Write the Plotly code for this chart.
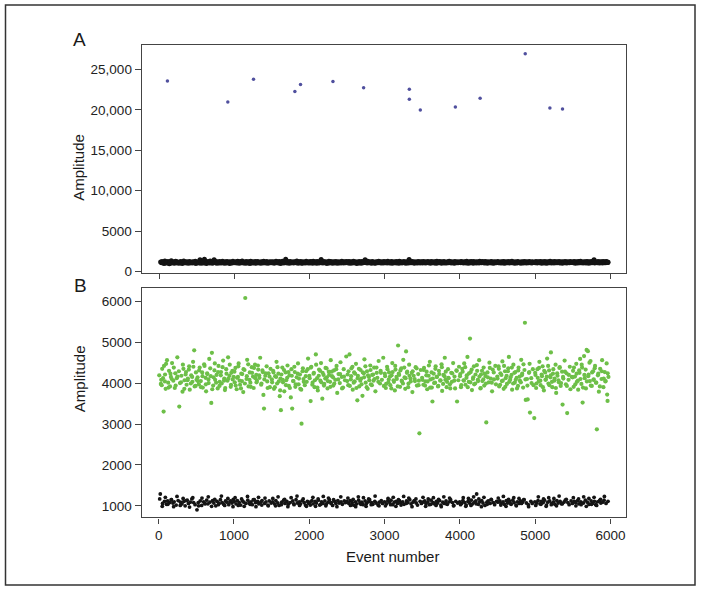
import plotly.graph_objs as go

# droplet events (event number), amplitude in channel A and in channel B
event_no = [
    22, 34, 41, 52, 66, 71, 78, 85, 93, 104, 111, 119, 127, 138, 146, 151, 163, 170, 178, 189, 195, 206, 214, 221, 233, 240, 248, 259, 274, 283, 291, 302, 310, 317, 329, 336, 344, 352, 363, 371, 379, 388, 396, 405, 413, 420, 432, 441, 448, 457, 465, 472, 484, 491, 509,
    517, 526, 533, 545, 552, 560, 571, 578, 586, 597, 604, 612, 623, 630, 638, 647, 655, 664, 672, 680, 691, 699, 707, 716, 724, 733, 741, 750, 758, 769, 776, 784, 795, 803, 811, 820, 828, 837, 845, 856, 863, 871, 880, 888, 897, 905, 914, 922, 931, 940, 948, 957, 965, 974, 983, 991,
    1002, 1010, 1019, 1027, 1036, 1045, 1053, 1062, 1070, 1081, 1089, 1097, 1106, 1114, 1123, 1131, 1140, 1150, 1158, 1167, 1175, 1184, 1193, 1201, 1210, 1218, 1227, 1236, 1244, 1253, 1261, 1270, 1279, 1287, 1296, 1305, 1313, 1322, 1330, 1339, 1348, 1356, 1365, 1373, 1382, 1391, 1399, 1408, 1416, 1425, 1434, 1442, 1451, 1459, 1468, 1477, 1485, 1494,
    1503, 1512, 1520, 1531, 1538, 1547, 1556, 1565, 1573, 1582, 1590, 1599, 1608, 1617, 1623, 1634, 1642, 1651, 1660, 1668, 1677, 1685, 1694, 1703, 1711, 1720, 1729, 1737, 1746, 1755, 1763, 1773, 1781, 1790, 1798, 1807, 1815, 1824, 1833, 1841, 1850, 1858, 1867, 1876, 1884, 1893, 1897, 1906, 1915, 1923, 1932, 1940, 1949, 1958, 1966, 1975, 1984, 1992,
    2001, 2009, 2018, 2027, 2035, 2044, 2052, 2061, 2070, 2078, 2087, 2095, 2104, 2113, 2121, 2130, 2138, 2147, 2156, 2164, 2173, 2181, 2190, 2199, 2207, 2216, 2224, 2233, 2242, 2250, 2259, 2267, 2276, 2285, 2293, 2302, 2310, 2319, 2328, 2336, 2345, 2353, 2362, 2371, 2379, 2388, 2396, 2405, 2414, 2422, 2431, 2439, 2448, 2457, 2465, 2474, 2482, 2491,
    2500, 2509, 2517, 2526, 2534, 2543, 2552, 2560, 2569, 2577, 2586, 2595, 2603, 2612, 2620, 2629, 2638, 2646, 2655, 2663, 2672, 2681, 2689, 2698, 2706, 2715, 2724, 2732, 2741, 2749, 2758, 2767, 2775, 2784, 2792, 2801, 2810, 2818, 2827, 2835, 2844, 2853, 2861, 2870, 2878, 2887, 2896, 2904, 2913, 2921, 2930, 2939, 2947, 2956, 2964, 2973, 2982, 2990,
    2999, 3007, 3016, 3025, 3033, 3042, 3050, 3059, 3068, 3076, 3085, 3093, 3102, 3111, 3119, 3128, 3136, 3145, 3154, 3162, 3171, 3179, 3188, 3197, 3205, 3214, 3222, 3231, 3240, 3248, 3257, 3265, 3274, 3285, 3291, 3300, 3308, 3317, 3326, 3334, 3343, 3351, 3360, 3369, 3377, 3386, 3394, 3403, 3412, 3420, 3429, 3437, 3446, 3455, 3462, 3472, 3480, 3489,
    3498, 3506, 3515, 3523, 3532, 3541, 3549, 3558, 3566, 3575, 3584, 3592, 3601, 3609, 3618, 3627, 3635, 3644, 3652, 3661, 3670, 3678, 3687, 3695, 3704, 3713, 3721, 3730, 3738, 3747, 3756, 3764, 3773, 3781, 3790, 3799, 3807, 3816, 3824, 3833, 3842, 3850, 3859, 3867, 3876, 3885, 3893, 3902, 3910, 3919, 3928, 3936, 3945, 3953, 3962, 3971, 3979, 3988,
    3997, 4005, 4014, 4022, 4031, 4040, 4048, 4057, 4065, 4074, 4083, 4091, 4100, 4108, 4117, 4126, 4134, 4143, 4151, 4160, 4169, 4177, 4186, 4194, 4203, 4212, 4222, 4229, 4237, 4246, 4255, 4263, 4272, 4280, 4289, 4298, 4306, 4315, 4323, 4332, 4341, 4350, 4358, 4366, 4375, 4384, 4392, 4401, 4409, 4418, 4427, 4435, 4444, 4452, 4461, 4470, 4478, 4487,
    4496, 4504, 4513, 4521, 4530, 4538, 4547, 4556, 4564, 4573, 4581, 4590, 4599, 4607, 4616, 4624, 4633, 4642, 4650, 4659, 4667, 4676, 4685, 4693, 4702, 4710, 4719, 4728, 4736, 4745, 4753, 4762, 4771, 4779, 4788, 4796, 4805, 4814, 4822, 4831, 4839, 4848, 4857, 4863, 4874, 4882, 4891, 4900, 4908, 4917, 4925, 4930, 4942, 4951, 4960, 4968, 4977, 4987,
    4995, 5003, 5012, 5020, 5029, 5037, 5046, 5055, 5063, 5072, 5080, 5089, 5098, 5106, 5115, 5123, 5132, 5141, 5149, 5158, 5166, 5175, 5184, 5192, 5201, 5208, 5218, 5227, 5235, 5244, 5252, 5261, 5270, 5278, 5287, 5295, 5304, 5313, 5321, 5330, 5338, 5347, 5356, 5363, 5373, 5381, 5390, 5399, 5407, 5416, 5424, 5433, 5442, 5450, 5459, 5467, 5476, 5485,
    5493, 5502, 5510, 5519, 5527, 5536, 5545, 5553, 5562, 5570, 5579, 5588, 5596, 5605, 5613, 5622, 5629, 5639, 5648, 5656, 5665, 5673, 5682, 5691, 5699, 5708, 5716, 5725, 5734, 5742, 5751, 5759, 5768, 5777, 5785, 5794, 5802, 5811, 5818, 5828, 5837, 5845, 5854, 5862, 5871, 5880, 5888, 5897, 5905, 5914, 5923, 5931, 5940, 5948, 5955, 5960, 5966, 5972,
]

amp_a = [
    1180, 1090, 1240, 1130, 1010, 1160, 1300, 1070, 1200, 1120, 1050, 1260, 1140, 980, 1190, 1110, 1350, 1060, 1170, 1230, 1100, 1020, 1150, 1280, 1090, 1210, 1130, 1040, 1180, 1070, 1250, 1120, 1000, 1160, 1310, 1080, 1140, 1200, 1060, 1230, 1110, 1170, 1020, 1260, 1130, 1090, 1190, 1050, 1150, 1220, 1080, 1120, 1270, 1010, 1160,
    1120, 1210, 1070, 1480, 1150, 1030, 1240, 1110, 1190, 1060, 1520, 1130, 1270, 1000, 1180, 1090, 1220, 1140, 1050, 1300, 1120, 1170, 1040, 1230, 1100, 1470, 1160, 1080, 1260, 1020, 1190, 1130, 1070, 1240, 1110, 1200, 1050, 1150, 1280, 1090, 1170, 1030, 1210, 1120, 1060, 1250, 1140, 1080, 1190, 1010, 1230, 1100, 1160, 1070, 1290, 1130,
    1150, 1080, 1220, 1130, 1050, 1270, 1110, 1190, 1040, 1240, 1160, 1090, 1310, 1120, 1060, 1200, 1140, 1030, 1250, 1100, 1180, 1070, 1230, 1130, 1010, 1280, 1150, 1090, 1210, 1060, 1170, 1120, 1260, 1040, 1190, 1100, 1240, 1080, 1160, 1130, 1020, 1220, 1110, 1180, 1050, 1270, 1140, 1090, 1200, 1070, 1250, 1120, 1030, 1170, 1150, 1230, 1080, 1190,
    1100, 1230, 1160, 1040, 1190, 1120, 1270, 1080, 1210, 1140, 1060, 1250, 1130, 1010, 1180, 1100, 1290, 1150, 1070, 1220, 1120, 1540, 1170, 1050, 1240, 1110, 1190, 1030, 1260, 1140, 1090, 1200, 1160, 1060, 1230, 1120, 1180, 1080, 1300, 1130, 1040, 1210, 1150, 1100, 1250, 1070, 1170, 1020, 1220, 1140, 1090, 1190, 1060, 1270, 1120, 1160, 1050, 1230,
    1170, 1060, 1240, 1120, 1190, 1040, 1280, 1130, 1090, 1210, 1150, 1020, 1250, 1110, 1180, 1070, 1230, 1140, 1500, 1100, 1200, 1050, 1260, 1160, 1080, 1220, 1130, 1010, 1190, 1120, 1270, 1060, 1170, 1240, 1090, 1150, 1030, 1210, 1130, 1180, 1070, 1250, 1110, 1160, 1040, 1230, 1140, 1090, 1200, 1060, 1290, 1120, 1180, 1050, 1220, 1150, 1100, 1240,
    1130, 1200, 1070, 1250, 1150, 1040, 1220, 1110, 1180, 1060, 1270, 1140, 1090, 1230, 1120, 1010, 1190, 1160, 1050, 1240, 1100, 1170, 1030, 1260, 1130, 1080, 1210, 1150, 1460, 1120, 1190, 1060, 1280, 1140, 1090, 1220, 1110, 1170, 1040, 1250, 1130, 1200, 1070, 1160, 1020, 1230, 1120, 1180, 1080, 1270, 1140, 1100, 1210, 1050, 1190, 1150, 1060, 1240,
    1160, 1090, 1230, 1120, 1050, 1270, 1140, 1200, 1070, 1180, 1110, 1250, 1030, 1190, 1130, 1080, 1220, 1150, 1060, 1240, 1120, 1170, 1040, 1280, 1100, 1210, 1140, 1070, 1190, 1130, 1250, 1090, 1160, 1020, 1230, 1120, 1180, 1060, 1510, 1150, 1100, 1210, 1080, 1260, 1130, 1170, 1040, 1220, 1140, 1090, 1190, 1060, 1240, 1120, 1180, 1050, 1230, 1150,
    1190, 1070, 1240, 1130, 1100, 1220, 1050, 1170, 1140, 1260, 1080, 1200, 1120, 1030, 1250, 1160, 1090, 1210, 1130, 1060, 1230, 1180, 1040, 1270, 1110, 1150, 1080, 1240, 1120, 1190, 1020, 1220, 1140, 1100, 1260, 1070, 1170, 1130, 1050, 1210, 1160, 1090, 1280, 1120, 1190, 1060, 1230, 1140, 1100, 1200, 1040, 1250, 1130, 1170, 1080, 1220, 1110, 1160,
    1140, 1210, 1080, 1250, 1120, 1170, 1050, 1230, 1130, 1190, 1060, 1270, 1110, 1160, 1040, 1220, 1150, 1090, 1240, 1120, 1180, 1020, 1260, 1140, 1100, 1200, 1070, 1230, 1130, 1170, 1050, 1290, 1120, 1190, 1080, 1240, 1150, 1100, 1210, 1060, 1250, 1130, 1170, 1030, 1220, 1140, 1090, 1200, 1110, 1260, 1070, 1180, 1150, 1040, 1230, 1120, 1190, 1080,
    1120, 1250, 1090, 1180, 1140, 1060, 1230, 1110, 1200, 1070, 1260, 1150, 1030, 1210, 1130, 1170, 1090, 1240, 1120, 1050, 1220, 1160, 1100, 1280, 1080, 1190, 1140, 1040, 1230, 1110, 1170, 1060, 1250, 1130, 1200, 1090, 1150, 1020, 1220, 1140, 1180, 1070, 1260, 1120, 1100, 1210, 1050, 1190, 1150, 1080, 1240, 1130, 1170, 1060, 1230, 1110, 1190, 1140,
    1170, 1100, 1240, 1130, 1060, 1220, 1150, 1190, 1080, 1260, 1120, 1040, 1210, 1140, 1180, 1070, 1250, 1110, 1160, 1030, 1230, 1130, 1200, 1090, 1270, 1150, 1060, 1220, 1120, 1180, 1050, 1240, 1140, 1100, 1210, 1080, 1190, 1130, 1260, 1070, 1160, 1120, 1230, 1040, 1200, 1150, 1090, 1250, 1110, 1180, 1060, 1220, 1140, 1170, 1080, 1240, 1120, 1190,
    1130, 1200, 1080, 1250, 1150, 1040, 1220, 1120, 1180, 1060, 1240, 1140, 1100, 1270, 1090, 1190, 1130, 1050, 1230, 1160, 1110, 1210, 1070, 1260, 1140, 1180, 1030, 1220, 1150, 1100, 1240, 1080, 1190, 1120, 1470, 1060, 1230, 1140, 1170, 1090, 1250, 1110, 1200, 1050, 1220, 1130, 1180, 1070, 1260, 1150, 1100, 1210, 1080, 1240, 1120, 1190, 1140, 1160,
]

amp_b = [
    1290, 4080, 3950, 1060, 3305, 4420, 1110, 4210, 3860, 1040, 4560, 1120, 4010, 4300, 1080, 3920, 4150, 1150, 4490, 1070, 4060, 1100, 3880, 4240, 1020, 4120, 4630, 1130, 3427, 4000, 1090, 4180, 1050, 3790, 4350, 1110, 4070, 1000, 4270, 3960, 1140, 4110, 1060, 4410, 3840, 1090, 4190, 1170, 4030, 4520, 1080, 4800, 1030, 3930, 903,
    4140, 1080, 3970, 4380, 1120, 4050, 1010, 4260, 3890, 1100, 4460, 1060, 4130, 3800, 1140, 4220, 1050, 4000, 4590, 1090, 4170, 3516, 4740, 1130, 3940, 1070, 4310, 4080, 1000, 4200, 1110, 3870, 4420, 1060, 4030, 1150, 4270, 3990, 1080, 4550, 1040, 4110, 3830, 1120, 4340, 1090, 4060, 4630, 1030, 4180, 1100, 3910, 4250, 1070, 4090, 1160,
    1110, 4020, 4370, 1050, 3850, 1130, 4150, 4480, 1080, 3960, 1020, 4230, 4050, 1120, 3780, 1090, 4320, 6080, 1060, 4100, 4570, 1140, 3920, 1070, 4260, 4010, 1100, 4390, 1030, 4160, 3880, 1150, 4450, 1080, 4200, 4060, 1110, 4330, 1050, 4130, 4620, 1090, 3990, 1130, 4270, 3710, 3378, 1060, 4180, 1100, 4410, 4040, 1020, 4240, 1120, 3900, 4350, 1070,
    4090, 1100, 4300, 3860, 1050, 4170, 1130, 4520, 3990, 1070, 4230, 1010, 3680, 4110, 3339, 1090, 4380, 4020, 1140, 3800, 1060, 4260, 4070, 1110, 4430, 1040, 3930, 4190, 1080, 3650, 4340, 3378, 1120, 4050, 1030, 4270, 3910, 1150, 4140, 1070, 4480, 3970, 1100, 4210, 1050, 3840, 3008, 1130, 4360, 4100, 1080, 3950, 1020, 4290, 4030, 1110, 4600, 1060,
    4180, 1090, 3560, 4400, 1130, 4010, 1050, 4250, 3900, 1110, 4700, 1070, 4120, 3820, 1140, 4330, 1020, 4060, 4490, 1100, 3620, 1060, 4200, 3980, 1120, 4370, 1040, 4140, 3870, 1090, 4280, 1150, 4030, 4560, 1080, 4170, 1010, 3940, 4310, 1110, 4080, 1060, 4420, 3760, 1130, 4220, 1070, 4000, 4510, 1100, 4150, 1040, 3890, 4340, 1120, 4070, 1080, 4650,
    1110, 4210, 3950, 1060, 4700, 1130, 4090, 4360, 1080, 3840, 1020, 4260, 4040, 1100, 4470, 1050, 3580, 4180, 1140, 3920, 1070, 4320, 4110, 1090, 3690, 1030, 4240, 4580, 1120, 4010, 1060, 4290, 3860, 1100, 4150, 1150, 4430, 3970, 1080, 4200, 1040, 4060, 4380, 1110, 3800, 1070, 4250, 4130, 1020, 4540, 1090, 3990, 4300, 1130, 4080, 1060, 4620, 3930,
    1100, 4170, 3880, 1050, 4400, 1120, 4020, 4260, 1080, 3950, 1140, 4190, 4490, 1030, 4070, 1090, 3820, 4330, 1110, 4100, 1060, 4919, 4230, 1130, 3910, 1070, 4360, 4040, 1100, 4570, 1040, 4140, 3860, 4774, 1120, 4280, 1080, 3990, 4450, 1150, 4110, 1050, 4250, 3780, 1090, 4180, 1130, 4050, 4390, 1070, 3940, 1020, 4220, 4060, 2773, 1110, 4320, 1060,
    4130, 1090, 3960, 4370, 1120, 4040, 1060, 4280, 3850, 1100, 4180, 1030, 4520, 4090, 1140, 3890, 3550, 1080, 4230, 1050, 4010, 4410, 1110, 4150, 1070, 3930, 4300, 1130, 4060, 1020, 4460, 3810, 1090, 4200, 1060, 4620, 4080, 1120, 3900, 1040, 4340, 4120, 1100, 3970, 1150, 4250, 4030, 1080, 4490, 1010, 4160, 3870, 1110, 4310, 3550, 1070, 4070, 4400,
    1100, 4220, 3900, 1060, 4350, 1130, 4070, 4480, 1080, 3960, 1020, 4190, 4640, 1110, 4030, 1070, 5088, 4270, 1140, 3830, 1050, 4140, 4410, 1090, 3990, 1120, 1290, 4300, 4080, 1040, 4560, 1100, 3870, 4210, 1130, 4050, 1070, 4380, 3940, 1010, 4170, 3040, 1090, 4260, 1120, 4020, 4500, 1060, 4110, 1150, 3800, 4330, 1080, 4090, 1030, 4420, 3970, 1110,
    4160, 1090, 4410, 3920, 1120, 4240, 1060, 4050, 4530, 1100, 3860, 1040, 4290, 4120, 1130, 3980, 1070, 4360, 4640, 1110, 4080, 1050, 4200, 3840, 1140, 4450, 1080, 4010, 4270, 1020, 4130, 1100, 3930, 4380, 1060, 4060, 1120, 4570, 4190, 1090, 3890, 1150, 4320, 5475, 3590, 1070, 4100, 3600, 1030, 4250, 4470, 3281, 1110, 4000, 1060, 4340, 3950, 3145,
    1100, 4200, 3880, 1070, 4340, 1130, 4040, 4520, 1050, 3950, 1110, 4170, 4410, 1080, 3820, 1140, 4260, 4090, 1020, 4600, 1090, 3990, 4310, 1120, 4140, 4750, 1060, 3900, 4230, 1100, 4060, 1040, 4450, 3760, 1130, 4180, 1070, 4020, 4370, 1110, 3930, 1050, 4280, 3475, 4110, 1090, 4550, 1140, 3970, 4240, 3267, 1080, 4080, 1030, 4400, 3850, 1120, 4150,
    1060, 4300, 3910, 1110, 4160, 1080, 4470, 4030, 1130, 3840, 1050, 4250, 4590, 1100, 3980, 4380, 3523, 1070, 4660, 4120, 1140, 3870, 4810, 1090, 4780, 4210, 1040, 4050, 4540, 1120, 3930, 1060, 4290, 4090, 1110, 4420, 1030, 4010, 2870, 1100, 4230, 3790, 1130, 4350, 1070, 4100, 4560, 1090, 3900, 1140, 4270, 4040, 1060, 4480, 3720, 3564, 1110, 4150,
]

# further droplets
pos_event_b = [
    8, 29, 47, 58, 83, 99, 131, 157, 174, 201, 226, 252, 268, 297, 322, 341, 358, 384, 401, 427, 445, 461, 478, 495, 503,
    521, 538, 563, 582, 609, 627, 644, 661, 685, 712, 729, 746, 763, 789, 808, 825, 849, 868, 884, 901, 926, 944, 961, 979, 996,
    1006, 1023, 1041, 1058, 1075, 1093, 1110, 1127, 1145, 1171, 1189, 1206, 1223, 1240, 1266, 1283, 1300, 1318, 1335, 1361, 1378, 1404, 1421, 1447, 1472,
    1507, 1525, 1543, 1560, 1578, 1595, 1613, 1630, 1647, 1664, 1690, 1707, 1724, 1742, 1768, 1785, 1802, 1820, 1846, 1863, 1880, 1910, 1927, 1953, 1979,
    2005, 2022, 2040, 2057, 2074, 2091, 2108, 2126, 2143, 2160, 2177, 2195, 2212, 2229, 2246, 2263, 2281, 2298, 2315, 2332, 2358, 2384, 2410, 2435, 2461,
    2504, 2521, 2539, 2556, 2573, 2590, 2608, 2625, 2642, 2659, 2677, 2694, 2711, 2728, 2745, 2762, 2780, 2797, 2814, 2831, 2848, 2866, 2892, 2917, 2951,
    3003, 3020, 3038, 3055, 3072, 3089, 3107, 3124, 3141, 3158, 3175, 3193, 3210, 3227, 3244, 3261, 3279, 3296, 3313, 3330, 3347, 3373, 3399, 3425, 3451,
    3502, 3519, 3537, 3554, 3571, 3588, 3605, 3623, 3640, 3657, 3674, 3691, 3709, 3726, 3743, 3760, 3777, 3795, 3812, 3829, 3846, 3872, 3898, 3924, 3958,
    4001, 4018, 4036, 4053, 4070, 4087, 4104, 4121, 4139, 4156, 4173, 4190, 4207, 4225, 4242, 4259, 4276, 4293, 4311, 4328, 4345, 4371, 4397, 4423, 4449,
    4500, 4517, 4534, 4551, 4569, 4586, 4603, 4620, 4637, 4655, 4672, 4689, 4706, 4723, 4741, 4758, 4775, 4792, 4809, 4827, 4844, 4870, 4896, 4921, 4947,
    4999, 5016, 5033, 5050, 5068, 5085, 5102, 5119, 5136, 5154, 5171, 5188, 5205, 5222, 5240, 5257, 5274, 5291, 5308, 5326, 5343, 5369, 5395, 5420, 5446,
    5497, 5514, 5532, 5549, 5566, 5583, 5600, 5617, 5634, 5652, 5669, 5686, 5703, 5720, 5738, 5755, 5772, 5789, 5806, 5832, 5858, 5884, 5910, 5935, 5962,
]
pos_amp_b = [
    4190, 3980, 4350, 4120, 4040, 4470, 3890, 4230, 4100, 4380, 3940, 4160, 4290, 4020, 4450, 3860, 4210, 4070, 4330, 3990, 4150, 4400, 3920, 4260, 4080,
    4050, 4310, 3900, 4170, 4420, 3970, 4240, 4090, 4360, 3850, 4140, 4480, 4010, 4270, 3930, 4190, 4390, 4060, 3880, 4230, 4110, 4450, 3960, 4300, 4150,
    4280, 3940, 4130, 4410, 4060, 3870, 4220, 4340, 3990, 4170, 4460, 4080, 3910, 4250, 4370, 4120, 4020, 4430, 4190, 3960, 4310, 4090, 4240, 3880, 4160,
    4020, 4260, 3900, 4150, 4390, 4040, 3820, 4210, 4080, 4320, 3950, 4130, 4270, 3880, 4180, 4050, 4400, 3970, 4230, 4110, 3860, 4290, 4030, 4170, 4340,
    4120, 4380, 3960, 4230, 4070, 4450, 3890, 4180, 4300, 4020, 4250, 3940, 4110, 4360, 4050, 4200, 3910, 4280, 4140, 3990, 4340, 4090, 4220, 3870, 4160,
    4050, 4290, 3930, 4170, 4400, 4010, 4230, 3880, 4120, 4350, 4060, 3970, 4260, 4140, 4410, 3900, 4190, 4070, 4320, 3950, 4210, 4100, 4380, 4030, 4250,
    4230, 3980, 4340, 4090, 4160, 3870, 4270, 4030, 4420, 4150, 3920, 4200, 4310, 4060, 3990, 4380, 4120, 4250, 3900, 4180, 4040, 4290, 4100, 4360, 3950,
    4080, 4320, 3940, 4190, 4040, 4430, 3890, 4260, 4110, 4000, 4350, 4150, 3920, 4220, 4070, 4390, 3980, 4170, 4280, 4030, 4130, 3870, 4240, 4060, 4300,
    4170, 3950, 4280, 4060, 4390, 4130, 3900, 4240, 4020, 4330, 4100, 3970, 4210, 4440, 4050, 4160, 3880, 4300, 4090, 4230, 3990, 4140, 4370, 4010, 4260,
    4110, 4350, 3960, 4200, 4060, 4420, 3910, 4180, 4290, 4030, 4140, 4380, 3990, 4250, 4080, 3870, 4310, 4160, 4020, 4230, 4460, 4090, 3940, 4270, 4120,
    4250, 3990, 4130, 4370, 4060, 4210, 3900, 4300, 4080, 4160, 4420, 3950, 4190, 4030, 4340, 4110, 3880, 4240, 4070, 4390, 4000, 4150, 4280, 3930, 4200,
    4140, 4380, 3970, 4230, 4060, 4310, 4100, 4450, 3890, 4200, 4330, 4040, 4170, 4500, 3940, 4260, 4080, 4360, 4010, 4190, 3920, 4290, 4110, 4050, 4240,
]
neg_event_b = [
    14, 48, 89, 122, 167, 199, 244, 287, 325, 367, 410, 453,
    530, 575, 618, 659, 703, 745, 792, 833, 877, 919, 953, 987,
    1015, 1057, 1101, 1136, 1180, 1214, 1257, 1292, 1326, 1369, 1412, 1455,
    1516, 1552, 1586, 1629, 1672, 1716, 1759, 1794, 1837, 1871, 1919, 1962,
    2014, 2048, 2083, 2117, 2152, 2186, 2220, 2255, 2289, 2323, 2367, 2418,
    2513, 2547, 2582, 2616, 2651, 2685, 2719, 2754, 2788, 2822, 2874, 2926,
    3011, 3046, 3080, 3115, 3150, 3184, 3218, 3253, 3287, 3321, 3364, 3416,
    3510, 3545, 3579, 3614, 3648, 3683, 3717, 3752, 3786, 3820, 3863, 3915,
    4009, 4044, 4078, 4113, 4147, 4182, 4216, 4251, 4285, 4319, 4362, 4414,
    4509, 4543, 4577, 4612, 4646, 4680, 4715, 4749, 4784, 4818, 4852, 4912,
    5007, 5041, 5076, 5110, 5145, 5179, 5213, 5248, 5282, 5317, 5360, 5412,
    5506, 5540, 5575, 5609, 5643, 5678, 5712, 5747, 5781, 5815, 5866, 5918,
]
neg_amp_b = [
    1170, 990, 1210, 1040, 1150, 980, 1230, 1010, 1180, 1130, 970, 1200,
    1000, 1190, 1050, 1220, 990, 1160, 1030, 1240, 1010, 1180, 1120, 980,
    1200, 1010, 1170, 990, 1230, 1040, 1150, 980, 1210, 1020, 1190, 1000,
    1180, 1000, 1220, 1030, 1160, 980, 1200, 1050, 1240, 1010, 1170, 990,
    1020, 1210, 990, 1170, 1040, 1230, 1000, 1190, 1060, 1150, 980, 1220,
    1190, 1010, 1160, 980, 1220, 1040, 1200, 990, 1170, 1030, 1240, 1000,
    1000, 1180, 1030, 1210, 990, 1150, 1020, 1230, 1060, 1190, 980, 1170,
    1210, 990, 1170, 1040, 1200, 1010, 1160, 980, 1220, 1050, 1190, 1000,
    1030, 1200, 990, 1180, 1010, 1220, 1050, 1170, 980, 1210, 1040, 1160,
    1190, 1020, 1230, 990, 1160, 1040, 1200, 1000, 1180, 1060, 1150, 980,
    1010, 1220, 1040, 1170, 990, 1200, 1030, 1180, 1000, 1240, 1050, 1160,
    1200, 1000, 1170, 1030, 1220, 990, 1180, 1040, 1210, 1010, 1160, 1230,
]

# rare high-amplitude events in channel A
outlier_event = [112, 915, 1257, 1807, 1882, 2313, 2721, 3329, 3329, 3475, 3941, 4270, 4870, 5198, 5366]
outlier_amp = [23570, 20960, 23780, 22270, 23130, 23500, 22710, 22550, 21290, 19980, 20350, 21410, 26920, 20230, 20100]

x_ticks = [0, 1000, 2000, 3000, 4000, 5000, 6000]
ya_ticks = [0, 5000, 10000, 15000, 20000, 25000]
ya_labels = ['0', '5000', '10,000', '15,000', '20,000', '25,000']
yb_ticks = [1000, 2000, 3000, 4000, 5000, 6000]

assert len(event_no) == len(amp_a) == len(amp_b)
assert len(pos_event_b) == len(pos_amp_b) and len(neg_event_b) == len(neg_amp_b)

# channel B positive / negative split
pos_x = [e for e, b in zip(event_no, amp_b) if b > 2500] + pos_event_b
pos_y = [b for b in amp_b if b > 2500] + pos_amp_b
neg_x = [e for e, b in zip(event_no, amp_b) if b <= 2500] + neg_event_b
neg_y = [b for b in amp_b if b <= 2500] + neg_amp_b

FONT = 'Liberation Sans, Arial, Helvetica, sans-serif'
BLACK = '#141414'
GREEN = '#6dbf48'
PURPLE = '#50509e'

traces = [
    go.Scatter(x=event_no, y=amp_a, mode='markers', xaxis='x', yaxis='y',
               marker=dict(color=BLACK, size=5, line=dict(width=0))),
    go.Scatter(x=outlier_event, y=outlier_amp, mode='markers', xaxis='x', yaxis='y',
               marker=dict(color=PURPLE, size=3.5, line=dict(width=0))),
    go.Scatter(x=neg_x, y=neg_y, mode='markers', xaxis='x2', yaxis='y2',
               marker=dict(color=BLACK, size=3.8, line=dict(width=0))),
    go.Scatter(x=pos_x, y=pos_y, mode='markers', xaxis='x2', yaxis='y2',
               marker=dict(color=GREEN, size=4.2, line=dict(width=0))),
]

axis_common = dict(
    showline=True, mirror=True, linecolor='#444', linewidth=1.2,
    showgrid=False, zeroline=False,
    ticks='outside', tickcolor='#444', tickwidth=1,
    tickfont=dict(family=FONT, size=13.5, color='#222'),
)

W, H = 701, 597
x_dom = [141.7 / W, 626 / W]


def label(text, x, y, size, angle=0):
    # text placed by pixel centre
    return dict(text=text, x=x / W, y=1 - y / H, xref='paper', yref='paper',
                xanchor='center', yanchor='middle', showarrow=False, textangle=angle,
                font=dict(family=FONT, size=size, color='#1a1a1a'))


layout = go.Layout(
    width=W, height=H,
    margin=dict(l=0, r=0, t=0, b=0),
    paper_bgcolor='white', plot_bgcolor='white',
    showlegend=False,
    xaxis=dict(domain=x_dom, anchor='y', range=[-230, 6210], tickvals=x_ticks,
               showticklabels=False, ticklen=5, **axis_common),
    yaxis=dict(domain=[1 - 276 / H, 1 - 45 / H], anchor='x', range=[-200, 28060],
               tickvals=ya_ticks, ticktext=ya_labels, ticklen=6, **axis_common),
    xaxis2=dict(domain=x_dom, anchor='y2', range=[-225, 6205], tickvals=x_ticks,
                ticklen=5, **axis_common),
    yaxis2=dict(domain=[1 - 522.7 / H, 1 - 291 / H], anchor='x2', range=[717, 6322],
                tickvals=yb_ticks, ticklen=6, **axis_common),
    annotations=[
        label('A', 79, 40, 19),
        label('B', 80, 288, 19),
        label('Amplitude', 78.5, 169, 15, -90),
        label('Amplitude', 79, 383, 15, -90),
        label('Event number', 392, 562, 15),
    ],
    shapes=[
        dict(type='rect', xref='paper', yref='paper',
             x0=5.5 / W, x1=695 / W, y0=1 - 591 / H, y1=1 - 5 / H,
             line=dict(color='#333', width=1.5)),
    ],
)

fig = go.Figure(data=traces, layout=layout)
fig.write_html("out.html", config={'displayModeBar': False},
               post_script="document.body.style.margin = '0';")
